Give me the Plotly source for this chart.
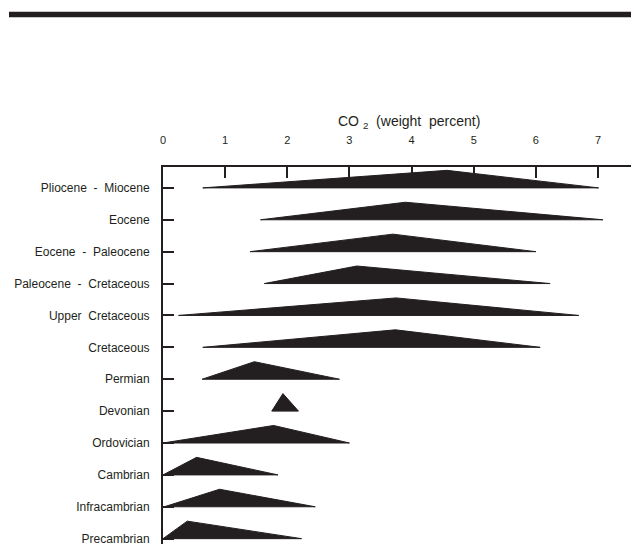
import plotly.graph_objects as go

# Data (CO2 weight percent): start, mode (peak), end of each distribution
periods = ["Pliocene - Miocene", "Eocene", "Eocene - Paleocene", "Paleocene - Cretaceous",
           "Upper Cretaceous", "Cretaceous", "Permian", "Devonian", "Ordovician",
           "Cambrian", "Infracambrian", "Precambrian"]
co2_min = [0.64, 1.57, 1.40, 1.63, 0.25, 0.64, 0.63, 1.75, 0.00, 0.00, 0.02, 0.00]
co2_peak = [4.57, 3.90, 3.70, 3.12, 3.75, 3.74, 1.47, 1.93, 1.78, 0.54, 0.91, 0.39]
co2_max = [7.01, 7.08, 6.00, 6.23, 6.69, 6.07, 2.84, 2.18, 3.00, 1.85, 2.45, 2.23]
x_ticks = [0, 1, 2, 3, 4, 5, 6, 7]

INK = "#231f20"
FONT = "Arial, Liberation Sans, Helvetica, sans-serif"
PEAK_H = 0.55  # triangle height in row units
NB = "\u00a0"


def spaced(label):
    # reproduce the wide word spacing of the original typesetting
    return label.replace(" - ", NB * 2 + "-" + NB * 2).replace(" ", NB * 2)


W, H = 631, 546
M_L, M_T = 163, 167

fig = go.Figure()
for i, name in enumerate(periods):
    fig.add_trace(go.Scatter(
        x=[co2_min[i], co2_peak[i], co2_max[i], co2_min[i]],
        y=[i, i - PEAK_H, i, i],
        mode="lines", fill="toself", fillcolor=INK,
        line=dict(color=INK, width=1),
        hoverinfo="skip", showlegend=False, name=name,
    ))

n = len(periods)
fig.update_layout(
    width=W, height=H,
    margin=dict(l=M_L, r=0, t=M_T, b=0, pad=0),
    paper_bgcolor="white", plot_bgcolor="white",
    font=dict(family=FONT, color=INK, size=12),
    showlegend=False,
    xaxis=dict(
        side="top", range=[0, (W - M_L) / 62.14],
        tickmode="array", tickvals=x_ticks, ticktext=[str(t) for t in x_ticks],
        ticks="inside", ticklen=11, tickwidth=1.5, tickcolor=INK,
        showline=True, linecolor=INK, linewidth=2,
        showgrid=False, zeroline=False,
        ticklabelstandoff=17,
        tickfont=dict(size=11, family=FONT, color=INK),
    ),
    yaxis=dict(
        range=[n - 1 + 0.167, -0.655],
        tickmode="array", tickvals=list(range(n)), ticktext=[spaced(p) for p in periods],
        ticks="inside", ticklen=11, tickwidth=1.5, tickcolor=INK,
        showline=True, linecolor=INK, linewidth=2,
        showgrid=False, zeroline=False,
        ticklabelstandoff=9, ticklabeloverflow="allow",
        tickfont=dict(size=12, family=FONT, color=INK),
    ),
)

plot_w = W - M_L
plot_h = H - M_T
# thick rule across the top of the page
fig.add_shape(type="rect", xref="paper", yref="paper",
              x0=(9 - M_L) / plot_w, x1=1.0,
              y0=(H - 16.5) / plot_h, y1=(H - 11) / plot_h,
              fillcolor=INK, line=dict(width=0), layer="above")

fig.add_annotation(
    text="CO" + NB + "<sub>2</sub>" + NB * 2 + "(weight" + NB * 2 + "percent)",
    xref="x", yref="paper",
    x=(409 - M_L) / 62.14, y=(H - 122) / plot_h, showarrow=False,
    font=dict(size=14, family=FONT, color=INK), xanchor="center", yanchor="middle",
)

fig.write_html("out.html", config={"displayModeBar": False},
               post_script="document.body.style.margin='0px';")
